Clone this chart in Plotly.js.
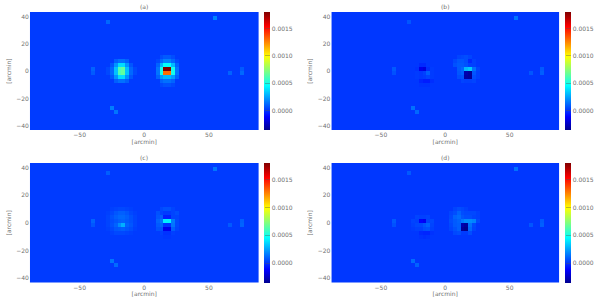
<!DOCTYPE html>
<html><head><meta charset="utf-8">
<script src="https://cdn.plot.ly/plotly-3.0.0.min.js"></script>
<style>html,body{margin:0;padding:0;background:#fff}#c{width:600px;height:297px}</style>
</head><body><div id="c"></div>
<script>
// All flux values are in units of 1e-5.
const nCols = 60, nRows = 30;
const background = [2, 1, 2, 1];
const panelNames = ['(a)', '(b)', '(c)', '(d)'];
const xTicks = [-50, 0, 50];
const yTicks = [-40, -20, 0, 20, 40];
const barTicks = [0, 0.0005, 0.0010, 0.0015];

// Each entry: [row from the top, first column, values]
const cellsA = [
 [1,48,[18]],[2,20,[12]],[14,16,[11]],[15,16,[9]],[15,52,[11]],[14,55,[9]],[15,55,[12]],[24,21,[17]],[25,22,[15]],
 [11,34,[6,9,9,6]],
 [12,22,[10,14,14,10]],[12,33,[5,12,18,18,12,5]],
 [13,21,[8,22,38,38,22,8]],[13,33,[11,30,46,46,30,11]],
 [14,20,[5,12,32,62,66,32,12,5]],[14,33,[15,50,180,180,50,15]],
 [15,20,[5,12,32,62,66,32,12,5]],[15,33,[15,50,130,130,50,15]],
 [16,21,[8,22,38,38,22,8]],[16,33,[11,24,30,30,24,11]],
 [17,22,[10,14,14,10]],[17,34,[11,14,14,11]],
 [18,34,[5,7,7,5]]
];
const cellsB = [
 [1,48,[15]],[2,20,[8]],[14,16,[9]],[15,16,[7]],[15,52,[8]],[14,55,[9]],[15,55,[10]],[24,21,[14]],[25,22,[12]],
 [11,33,[4,5,6,4]],
 [12,32,[5,8,8,6,-2,3]],
 [13,22,[1,-2,-2,1]],[13,32,[7,9,9,7,3,3]],
 [14,22,[0,-15,-18,-1,2]],[14,33,[9,12,30,34,14,4]],
 [15,22,[2,1,3,10,2]],[15,33,[8,10,-28,-32,8,3]],
 [16,22,[2,1,2,4,2]],[16,33,[6,7,-30,-32,6,3]],
 [17,22,[1,-3,-5,-5,-1]],[17,34,[4,3,3,4]],
 [18,23,[0,0,0]]
];
const cellsC = [
 [1,48,[15]],[2,20,[10]],[14,16,[11]],[15,16,[8]],[15,52,[9]],[14,55,[10]],[15,55,[11]],[24,21,[15]],[25,22,[13]],
 [11,21,[3,4,5,5,4,3]],[11,34,[5,7,7,4]],
 [12,20,[3,5,8,10,10,8,5,3]],[12,33,[7,4,2,2,4,6]],
 [13,20,[4,7,10,12,12,10,7,4]],[13,33,[8,10,-4,-4,4,4]],
 [14,20,[4,6,8,10,11,9,7,4]],[14,33,[11,15,42,42,16,5]],
 [15,20,[4,7,11,20,28,11,8,4]],[15,33,[9,11,0,0,15,5]],
 [16,20,[3,5,8,9,10,8,6,3]],[16,33,[7,7,-15,-15,10,4]],
 [17,21,[3,5,5,5,4,3]],[17,34,[3,0,0,3]],
 [18,35,[1,1,2]]
];
const cellsD = [
 [1,48,[14]],[2,20,[9]],[14,16,[9]],[15,16,[7]],[15,52,[8]],[14,55,[9]],[15,55,[10]],[24,21,[13]],[25,22,[11]],
 [11,32,[4,6,5,3]],
 [12,31,[4,6,11,6,5,5,5,3]],
 [13,22,[4,3,3,4]],[13,31,[5,11,13,8,6,6,4,3]],
 [14,21,[4,3,-11,-14,4,5]],[14,31,[6,9,11,16,20,20,18,5]],
 [15,21,[3,5,5,8,11,4]],[15,31,[5,9,10,-28,-32,14,5]],
 [16,21,[2,3,3,6,7,3]],[16,31,[4,7,10,-32,-35,12,4]],
 [17,22,[1,-2,-3,-3,0]],[17,32,[5,6,2,2,6]],
 [18,23,[0,-1,0]]
];

const allCells = [cellsA, cellsB, cellsC, cellsD];

function grid(cells, bg) {
  const z = [];
  for (let r = 0; r < nRows; r++) z.push(new Array(nCols).fill(bg * 1e-5));
  cells.forEach(([row, col, vals]) => vals.forEach((v, i) => { z[row][col + i] = v * 1e-5; }));
  return z;
}

const jet = [[0,'rgb(0,0,143)'],[0.111,'rgb(0,0,255)'],[0.375,'rgb(0,255,255)'],[0.625,'rgb(255,255,0)'],[0.875,'rgb(255,0,0)'],[1,'rgb(128,0,0)']];
const W = 600, H = 297;
const boxes = [
 {l:30,r:260,t:12,b:130,bar:265},
 {l:333,r:562,t:12,b:130,bar:568},
 {l:30,r:260,t:163,b:282.5,bar:265},
 {l:333,r:562,t:163,b:282.5,bar:568}
];
const ink = '#707070';
const tickFont = {family:'DejaVu Sans', size:6, color:ink};
const dx = 2.95, dy = 2.88, xStart = -88.5, yStart = -43;
const traces = [], layout = {
  width:W, height:H, margin:{l:0,r:0,t:0,b:0}, paper_bgcolor:'#fff', plot_bgcolor:'#fff',
  showlegend:false, annotations:[]
};
boxes.forEach((b, i) => {
  const s = i === 0 ? '' : String(i + 1);
  const z = grid(allCells[i], background[i]).slice().reverse();
  traces.push({
    type:'heatmap', z:z, x0:xStart + dx / 2, dx:dx, y0:yStart + dy / 2, dy:dy,
    xaxis:'x' + s, yaxis:'y' + s, zmin:-0.00035, zmax:0.0018, colorscale:jet, zsmooth:false,
    hoverinfo:'skip',
    colorbar:{
      x:b.bar / W, xanchor:'left', xpad:0, ypad:0, thickness:5.5, thicknessmode:'pixels',
      y:1 - (b.t + b.b) / 2 / H, yanchor:'middle', len:(b.b - b.t) / H, lenmode:'fraction',
      outlinewidth:0, ticks:'inside', ticklen:5, tickwidth:0.4, tickcolor:'#555',
      tickmode:'array', tickvals:barTicks, ticktext:barTicks.map(v => v.toFixed(4)),
      tickfont:tickFont, borderwidth:0
    }
  });
  layout['xaxis' + s] = {
    domain:[b.l / W, b.r / W], range:[xStart, -xStart], anchor:'y' + s,
    tickmode:'array', tickvals:xTicks, ticks:'', showgrid:false, zeroline:false, showline:false,
    tickfont:tickFont,
    title:{text:'[arcmin]', font:tickFont, standoff:0}
  };
  layout['yaxis' + s] = {
    domain:[1 - b.b / H, 1 - b.t / H], range:[yStart, 43.4], anchor:'x' + s,
    tickmode:'array', tickvals:yTicks, ticks:'', showgrid:false, zeroline:false, showline:false,
    tickfont:tickFont,
    title:{text:'[arcmin]', font:tickFont, standoff:4}
  };
  layout.annotations.push({
    text:panelNames[i], xref:'paper', yref:'paper', x:(b.l + b.r) / 2 / W, y:1 - (b.t - 6) / H,
    xanchor:'center', yanchor:'middle', showarrow:false, font:tickFont
  });
});
Plotly.newPlot('c', traces, layout, {displayModeBar:false, staticPlot:true});
</script></body></html>
